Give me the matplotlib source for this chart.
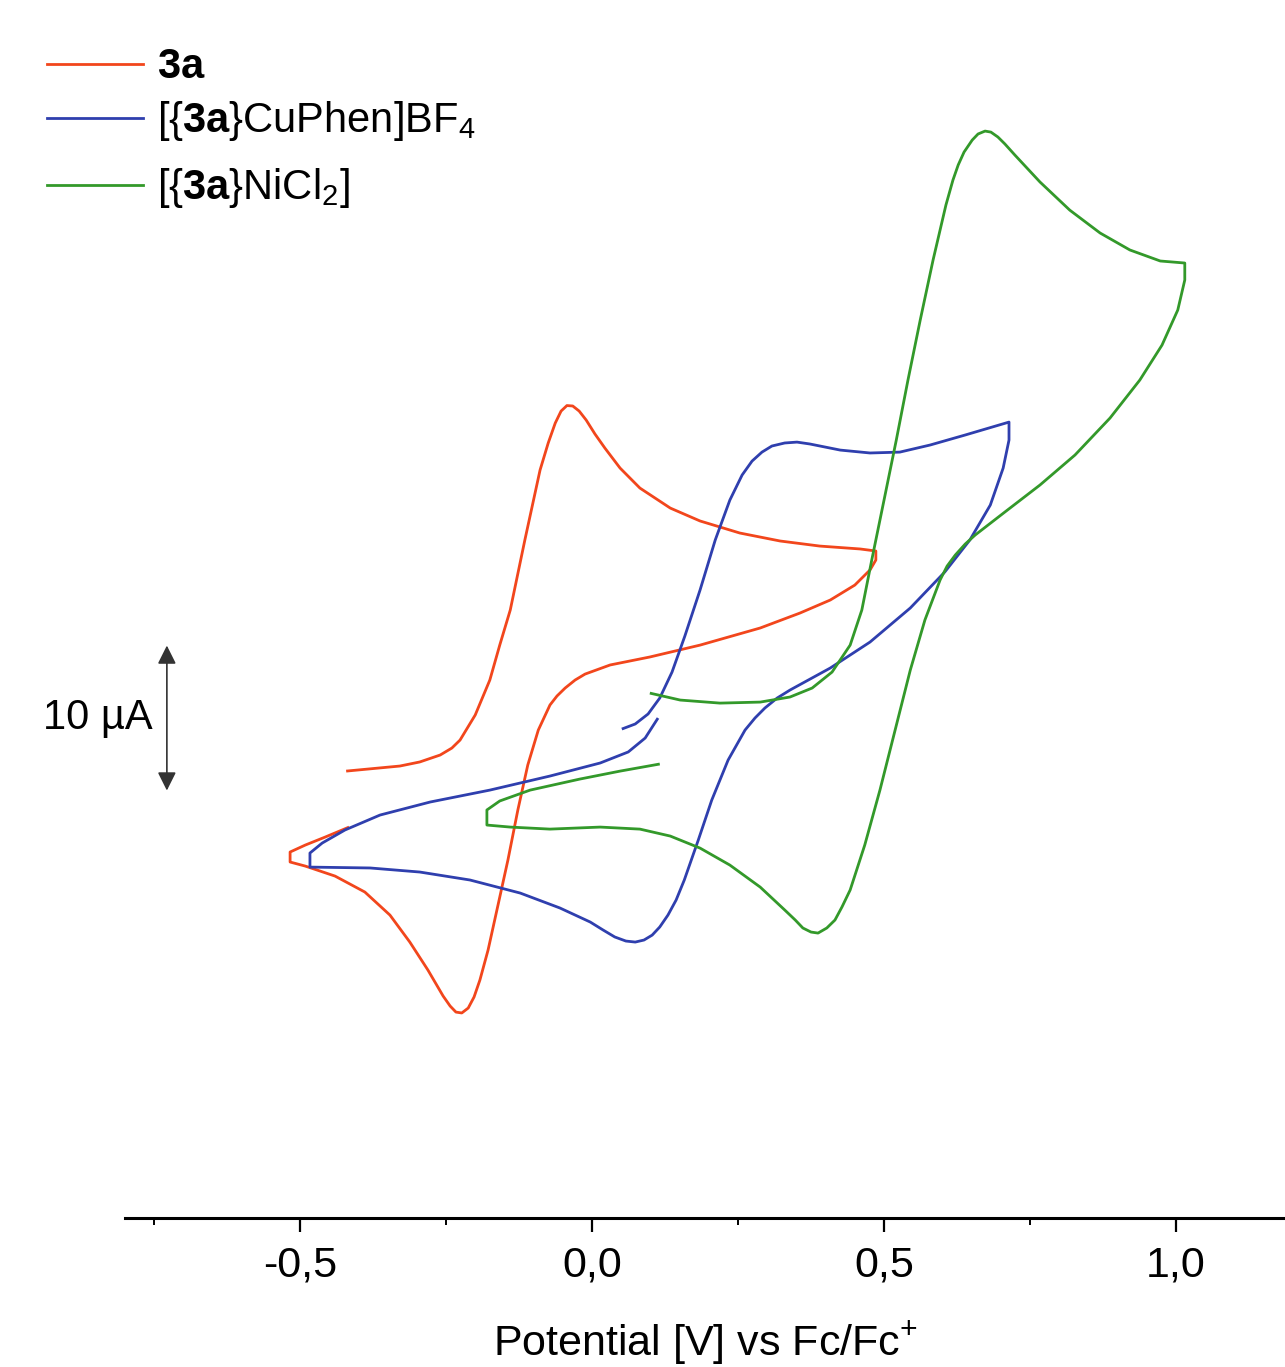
import matplotlib
matplotlib.use('Agg')
import matplotlib.pyplot as plt
from matplotlib import font_manager
from matplotlib.lines import Line2D
from matplotlib.ticker import FixedLocator

# fonts: Arial-like for text, narrow variant for the axis if present
names = {f.name for f in font_manager.fontManager.ttflist}
narrow = 'Liberation Sans Narrow' if 'Liberation Sans Narrow' in names else 'Liberation Sans'
plt.rcParams['font.family'] = ['Liberation Sans', 'DejaVu Sans']
plt.rcParams['mathtext.fontset'] = 'custom'
plt.rcParams['mathtext.rm'] = 'Liberation Sans'
plt.rcParams['mathtext.bf'] = 'Liberation Sans:bold'
plt.rcParams['mathtext.it'] = 'Liberation Sans:italic'

# ---- data: potential (V vs Fc/Fc+) and current (uA, arbitrary offset) ----
E_3a = [-0.421, -0.329, -0.295, -0.260, -0.240, -0.226, -0.200, -0.175, -0.158, -0.140,
        -0.115, -0.089, -0.075, -0.063, -0.053, -0.043, -0.033, -0.022, -0.010, 0.005,
        0.022, 0.048, 0.082, 0.134, 0.185, 0.253, 0.322, 0.390, 0.459, 0.486,
        0.486, 0.476, 0.450, 0.408, 0.356, 0.288, 0.185, 0.099, 0.031, -0.012,
        -0.029, -0.046, -0.060, -0.072, -0.092, -0.110, -0.127, -0.144, -0.161, -0.178,
        -0.192, -0.202, -0.212, -0.223, -0.233, -0.243, -0.255, -0.281, -0.312, -0.346,
        -0.389, -0.440, -0.491, -0.517, -0.517, -0.491, -0.457, -0.416]
I_3a = [-3.66, -3.31, -3.03, -2.55, -2.07, -1.52, 0.21, 2.62, 5.03, 7.45,
        12.28, 17.10, 18.97, 20.34, 21.17, 21.55, 21.52, 21.17, 20.55, 19.59,
        18.62, 17.24, 15.86, 14.48, 13.59, 12.76, 12.21, 11.86, 11.66, 11.52,
        10.90, 10.21, 9.17, 8.14, 7.24, 6.21, 5.03, 4.21, 3.66, 3.03,
        2.62, 2.07, 1.52, 0.90, -0.83, -3.24, -6.34, -9.79, -12.90, -16.0,
        -18.07, -19.24, -20.0, -20.34, -20.28, -19.86, -19.17, -17.38, -15.45, -13.59,
        -12.0, -10.90, -10.21, -9.93, -9.24, -8.76, -8.21, -7.52]

E_cu = [0.051, 0.074, 0.096, 0.116, 0.137, 0.159, 0.185, 0.211, 0.236, 0.257,
        0.274, 0.291, 0.308, 0.330, 0.351, 0.373, 0.425, 0.476, 0.527, 0.579,
        0.639, 0.714, 0.714, 0.704, 0.682, 0.647, 0.604, 0.545, 0.476, 0.408,
        0.339, 0.317, 0.296, 0.279, 0.262, 0.233, 0.205, 0.182, 0.158, 0.144,
        0.130, 0.116, 0.103, 0.089, 0.074, 0.058, 0.039, 0.019, -0.003, -0.055,
        -0.123, -0.209, -0.295, -0.380, -0.483, -0.483, -0.462, -0.423, -0.363, -0.277,
        -0.175, -0.072, 0.014, 0.062, 0.091, 0.113]
I_cu = [-0.76, -0.41, 0.28, 1.38, 3.17, 5.66, 8.83, 12.28, 15.03, 16.76,
        17.72, 18.34, 18.76, 18.97, 19.03, 18.90, 18.48, 18.28, 18.34, 18.83,
        19.52, 20.41, 19.17, 17.24, 14.69, 12.28, 10.07, 7.59, 5.24, 3.45,
        1.93, 1.38, 0.69, 0.0, -0.83, -2.90, -5.66, -8.41, -11.17, -12.55,
        -13.59, -14.41, -14.97, -15.31, -15.45, -15.38, -15.10, -14.62, -14.07, -13.10,
        -12.07, -11.17, -10.62, -10.34, -10.28, -9.31, -8.62, -7.72, -6.69, -5.79,
        -4.97, -4.0, -3.10, -2.34, -1.38, 0.0]

E_ni = [0.099, 0.151, 0.219, 0.288, 0.339, 0.377, 0.411, 0.442, 0.462, 0.479,
        0.500, 0.521, 0.541, 0.562, 0.584, 0.606, 0.618, 0.627, 0.637, 0.651,
        0.661, 0.673, 0.683, 0.695, 0.707, 0.724, 0.767, 0.818, 0.870, 0.921,
        0.973, 1.015, 1.015, 1.003, 0.976, 0.938, 0.887, 0.827, 0.767, 0.707,
        0.656, 0.639, 0.622, 0.608, 0.596, 0.570, 0.545, 0.519, 0.493, 0.467,
        0.442, 0.428, 0.416, 0.402, 0.387, 0.375, 0.361, 0.348, 0.330, 0.288,
        0.236, 0.185, 0.134, 0.082, 0.014, -0.072, -0.140, -0.180, -0.180, -0.158,
        -0.106, -0.021, 0.048, 0.116]
I_ni = [1.72, 1.24, 1.03, 1.10, 1.45, 2.07, 3.17, 5.03, 7.45, 10.90,
        15.03, 19.17, 23.31, 27.45, 31.59, 35.38, 37.10, 38.14, 39.03, 39.86,
        40.28, 40.48, 40.41, 40.07, 39.59, 38.83, 36.97, 35.03, 33.45, 32.28,
        31.52, 31.38, 30.21, 28.14, 25.72, 23.31, 20.69, 18.14, 16.07, 14.21,
        12.62, 12.0, 11.24, 10.48, 9.52, 6.76, 3.31, -0.83, -4.97, -8.76,
        -11.86, -13.03, -13.93, -14.48, -14.83, -14.76, -14.48, -13.93, -13.24, -11.66,
        -10.14, -8.97, -8.14, -7.66, -7.52, -7.66, -7.52, -7.38, -6.34, -5.72,
        -4.97, -4.21, -3.66, -3.17]

labels = [r'$\mathbf{3a}$', r'[{$\mathbf{3a}$}CuPhen]BF$_4$', r'[{$\mathbf{3a}$}NiCl$_2$]']
colors = ['#f2461c', '#2f3fae', '#33992a']
major_ticks = [-0.5, 0.0, 0.5, 1.0]
minor_ticks = [-0.75, -0.25, 0.25, 0.75]
tick_labels = ['-0,5', '0,0', '0,5', '1,0']
scale_bar = (-5.0, 5.0)   # 10 uA

W, H = 1285, 1367
fig = plt.figure(figsize=(W / 100, H / 100), dpi=100)
ax = fig.add_axes([125 / W, 149 / H, 1160 / W, 1218 / H])

for E, I, c in zip([E_3a, E_cu, E_ni], [I_3a, I_cu, I_ni], colors):
    ax.plot(E, I, color=c, lw=2.0, solid_joinstyle='round', solid_capstyle='butt')

ax.set_xlim(-0.7997, 1.1866)
ax.set_ylim(-34.48, 49.52)

for s in ['left', 'right', 'top']:
    ax.spines[s].set_visible(False)
ax.spines['bottom'].set_linewidth(2.2)
ax.set_yticks([])
fs_axis = 36 if narrow != 'Liberation Sans' else 31
ax.xaxis.set_major_locator(FixedLocator(major_ticks))
ax.xaxis.set_minor_locator(FixedLocator(minor_ticks))
ax.set_xticklabels(tick_labels, fontfamily=narrow, fontsize=fs_axis)
ax.tick_params(axis='x', which='major', direction='out', length=10, width=1.6, pad=10)
ax.tick_params(axis='x', which='minor', direction='out', length=5, width=1.4)
ax.set_xlabel(r'Potential [V] vs Fc/Fc$^{+}$', fontfamily=narrow,
              fontsize=fs_axis, labelpad=24)

# 10 uA scale bar
ax.annotate('', xy=(-0.728, scale_bar[1]), xytext=(-0.728, scale_bar[0]),
            arrowprops=dict(arrowstyle='<|-|>', color='#333333', lw=1.2,
                            mutation_scale=28, shrinkA=0, shrinkB=0))
ax.text(-0.752, (scale_bar[0] + scale_bar[1]) / 2, '10 \u00b5A', ha='right', va='center',
        fontsize=30)

# legend drawn by hand at the top left
row_y = [64, 118, 185]
for lab, c, y in zip(labels, colors, row_y):
    fig.add_artist(Line2D([47 / W, 143 / W], [1 - y / H, 1 - y / H], color=c, lw=2.0))
    fig.text(157 / W, 1 - (y + 14) / H, lab, fontsize=30, ha='left', va='baseline')

fig.savefig('out.png', dpi=100)
